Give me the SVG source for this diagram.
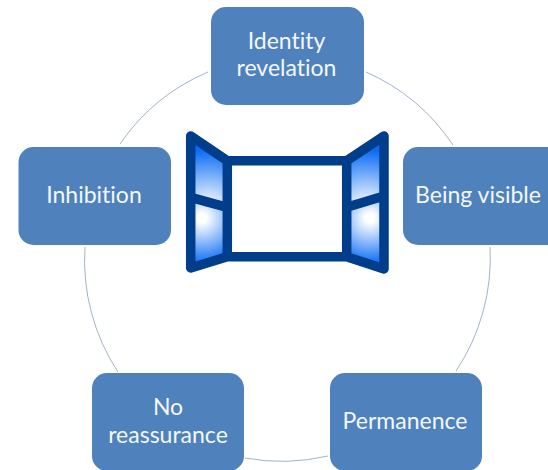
<svg xmlns="http://www.w3.org/2000/svg" width="548" height="470" viewBox="0 0 548 470">
<style>
.box{fill:#4f81bd}
.lbl{font-family:Lato,"Open Sans",sans-serif;font-size:23px;fill:#f4f8fc;text-anchor:middle;font-variant-ligatures:none}
.arc{fill:none;stroke:#9fb3cd;stroke-width:1}
.frame{fill:none;stroke:#003d8a;stroke-width:9.500;stroke-linejoin:round;stroke-linecap:round}
</style>
<defs>
<radialGradient id="g1" gradientUnits="userSpaceOnUse" cx="208" cy="212" r="62"><stop offset="0.1" stop-color="#fff"/><stop offset="1" stop-color="#0a6cf5"/></radialGradient>
<radialGradient id="g2" gradientUnits="userSpaceOnUse" cx="202" cy="218" r="46"><stop offset="0.1" stop-color="#fff"/><stop offset="1" stop-color="#0a6cf5"/></radialGradient>
<radialGradient id="g3" gradientUnits="userSpaceOnUse" cx="366" cy="212" r="62"><stop offset="0.1" stop-color="#fff"/><stop offset="1" stop-color="#0a6cf5"/></radialGradient>
<radialGradient id="g4" gradientUnits="userSpaceOnUse" cx="370" cy="218" r="46"><stop offset="0.1" stop-color="#fff"/><stop offset="1" stop-color="#0a6cf5"/></radialGradient>
</defs>
<rect width="548" height="470" fill="#fff"/>
<g id="connectors">
<path class="arc" d="M208 72A203 203 0 0 0 120 144"/>
<path class="arc" d="M366 72A203 203 0 0 1 453 145"/>
<path class="arc" d="M490 247A203 203 0 0 1 456 371"/>
<path class="arc" d="M328 456A203 203 0 0 1 245 458"/>
<path class="arc" d="M118 372A203 203 0 0 1 85 247"/>
</g>
<g id="identity-revelation"><rect class="box" x="211" y="7" width="153" height="98" rx="15"/><text class="lbl" x="286.500" y="49">Identity</text><text class="lbl" x="286.500" y="76">revelation</text></g>
<g id="being-visible"><rect class="box" x="403" y="147" width="160" height="98" rx="15"/><text class="lbl" x="478" y="203">Being visible</text></g>
<g id="permanence"><rect class="box" x="330" y="373" width="152" height="98" rx="15"/><text class="lbl" x="405" y="429">Permanence</text></g>
<g id="no-reassurance"><rect class="box" x="92" y="373" width="152" height="98" rx="15"/><text class="lbl" x="168" y="415">No</text><text class="lbl" x="168" y="443">reassurance</text></g>
<g id="inhibition"><rect class="box" x="18.500" y="147" width="152.500" height="98" rx="15"/><text class="lbl" x="94" y="203">Inhibition</text></g>
<g id="window">
<polygon points="190.700,136 227.300,160.700 227.300,207.300 190.700,197.300" fill="url(#g1)"/>
<polygon points="190.700,197.300 227.300,207.300 227.300,256.700 190.700,268" fill="url(#g2)"/>
<polygon points="384,136 346.700,160.700 346.700,207.300 384,196" fill="url(#g3)"/>
<polygon points="384,196 346.700,207.300 346.700,256.700 384,269" fill="url(#g4)"/>
<path class="frame" d="M227.300 160.700H346.700V256.700H227.300ZM227.300 160.700L190.700 136V268L227.300 256.700M190.700 197.300L227.300 207.300M346.700 160.700L384 136V269L346.700 256.700M384 196L346.700 207.300"/>
</g>
</svg>
